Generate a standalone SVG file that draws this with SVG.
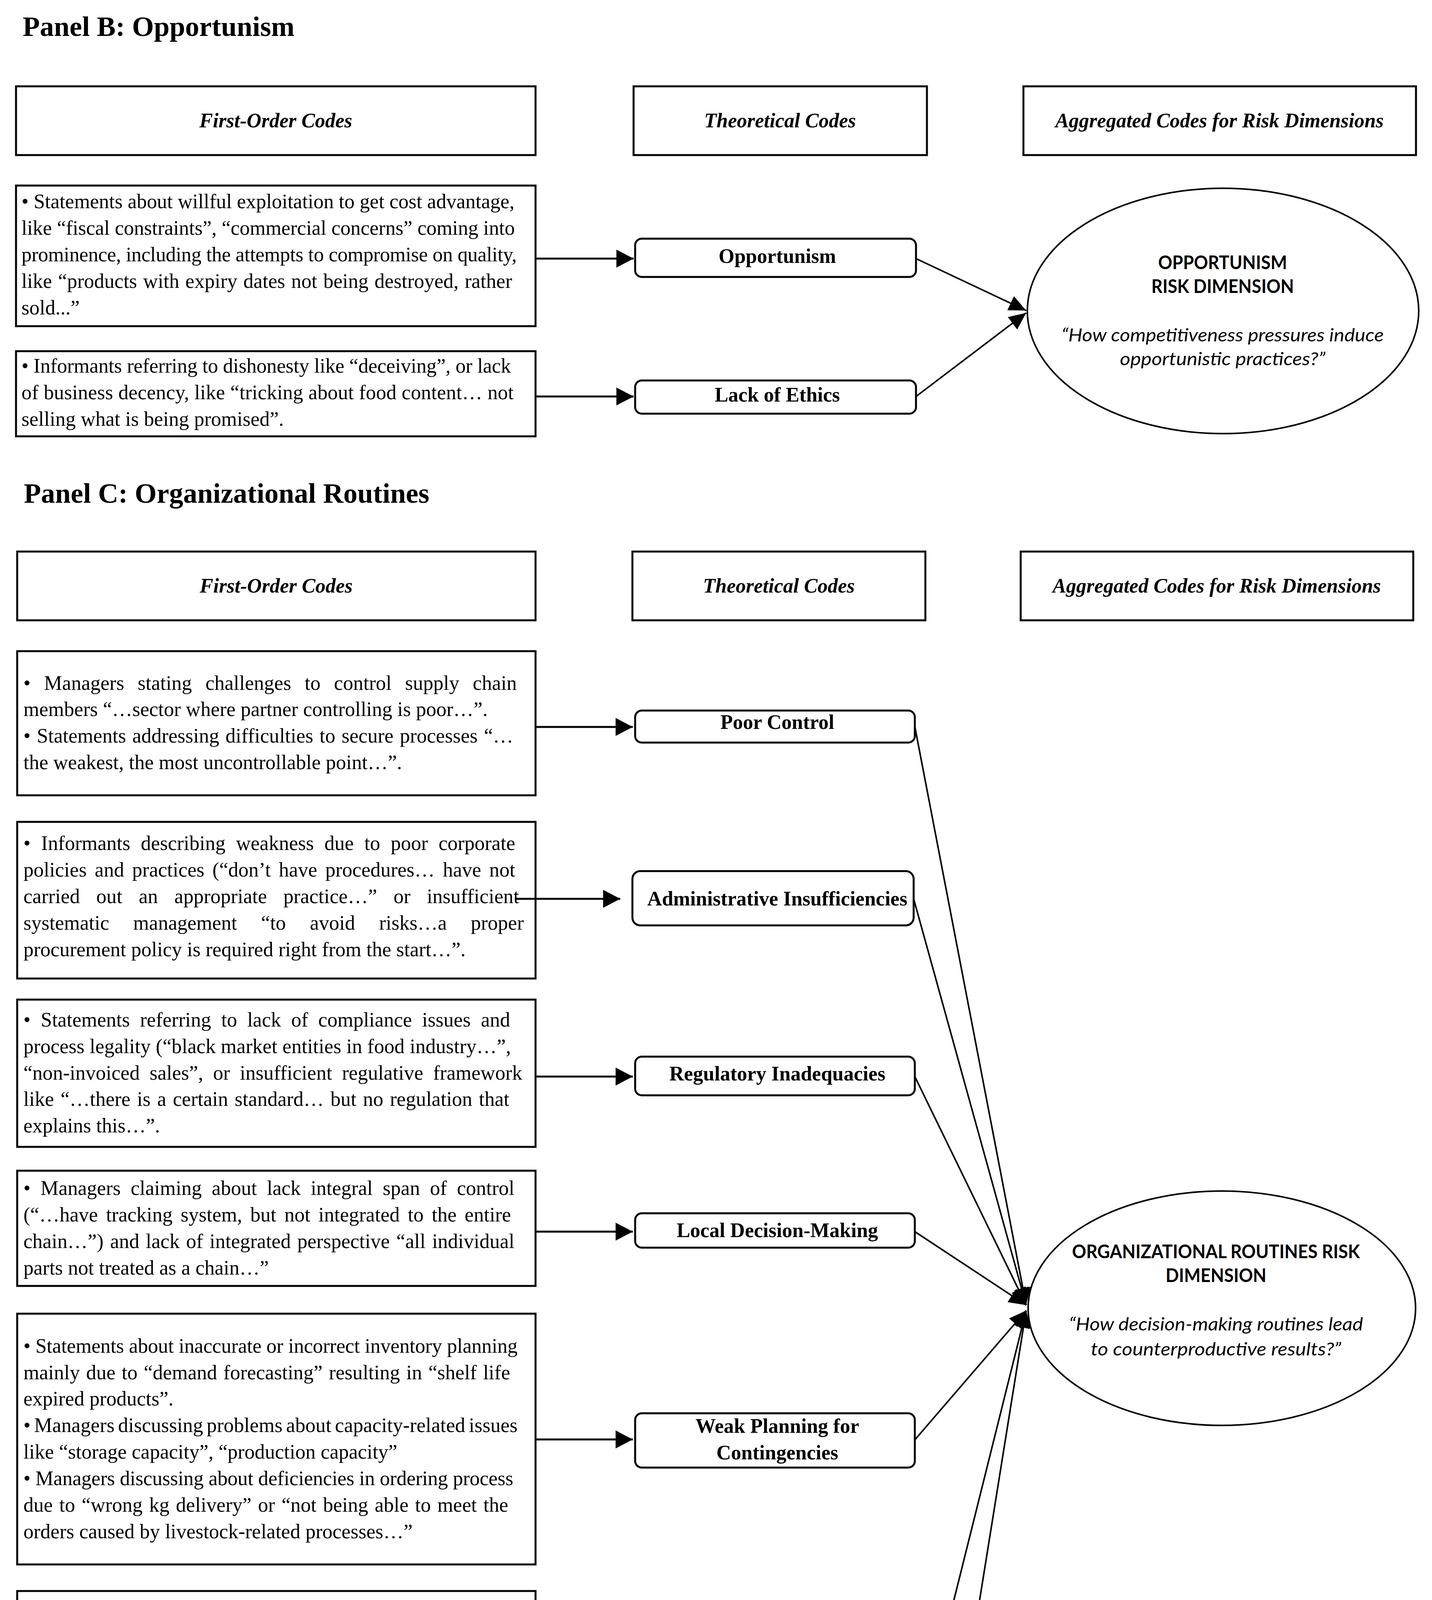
<svg xmlns="http://www.w3.org/2000/svg" width="3666" height="5324" viewBox="0 0 3666 5324">
<style>
.bg{fill:#fff}
.box{fill:#fff;stroke:#000;stroke-width:5}
.node{fill:#fff;stroke:#000;stroke-width:5}
.ell{fill:#fff;stroke:#000;stroke-width:4}
.title{font-family:"Liberation Serif","Times New Roman",serif;font-weight:bold;font-size:72px;fill:#000}
.hdr{font-family:"Liberation Serif","Times New Roman",serif;font-weight:bold;font-style:italic;font-size:52px;text-anchor:middle;fill:#000}
.body{font-family:"Liberation Serif","Times New Roman",serif;font-size:52px;fill:#000}
.lbl{font-family:"Liberation Serif","Times New Roman",serif;font-weight:bold;font-size:52px;text-anchor:middle;fill:#000}
.eb{font-family:Lato,"Open Sans",sans-serif;font-weight:bold;font-size:47px;text-anchor:middle;fill:#000}
.ei{font-family:Lato,"Open Sans",sans-serif;font-style:italic;font-size:47px;text-anchor:middle;fill:#000}
.h{stroke:#000;stroke-width:5;fill:none}
.d{stroke:#000;stroke-width:4;fill:none}
</style>
<defs>
<marker id="ah" markerUnits="userSpaceOnUse" markerWidth="44" markerHeight="46" refX="44" refY="23" orient="auto"><path d="M0,0 L44,23 L0,46 z" fill="#000"/></marker>
<marker id="ad" markerUnits="userSpaceOnUse" markerWidth="44" markerHeight="40" refX="44" refY="20" orient="auto"><path d="M0,0 L44,20 L0,40 z" fill="#000"/></marker>
</defs>
<rect class="bg" x="0" y="0" width="3666" height="5324"/>

<!-- Panel B -->
<text class="title" x="58" y="92">Panel B: Opportunism</text>
<g id="hdrB1"><rect class="box" x="41" y="221" width="1330" height="176"/><text class="hdr" x="706" y="326">First-Order Codes</text></g>
<g id="hdrB2"><rect class="box" x="1622" y="221" width="751" height="176"/><text class="hdr" x="1997" y="326">Theoretical Codes</text></g>
<g id="hdrB3"><rect class="box" x="2620" y="221" width="1005" height="176"/><text class="hdr" x="3122" y="326">Aggregated Codes for Risk Dimensions</text></g>

<g id="b1">
<rect class="box" x="41" y="475" width="1330" height="360"/>
<text class="body" x="55" y="533" textLength="1262" lengthAdjust="spacing">• Statements about willful exploitation to get cost advantage,</text>
<text class="body" x="55" y="601" textLength="1263" lengthAdjust="spacing">like “fiscal constraints”, “commercial concerns” coming into</text>
<text class="body" x="55" y="669" textLength="1268" lengthAdjust="spacing">prominence, including the attempts to compromise on quality,</text>
<text class="body" x="55" y="737" textLength="1256" lengthAdjust="spacing" style="word-spacing:2.6px">like “products with expiry dates not being destroyed, rather</text>
<text class="body" x="55" y="805">sold...”</text>
</g>
<g id="b2">
<rect class="box" x="41" y="899" width="1330" height="218"/>
<text class="body" x="55" y="954" textLength="1253" lengthAdjust="spacing">• Informants referring to dishonesty like “deceiving”, or lack</text>
<text class="body" x="55" y="1022" textLength="1260" lengthAdjust="spacing">of business decency, like “tricking about food content… not</text>
<text class="body" x="55" y="1090">selling what is being promised”.</text>
</g>

<g id="nB1"><rect class="node" x="1626" y="611" width="719" height="98" rx="17"/><text class="lbl" x="1990" y="673">Opportunism</text></g>
<g id="nB2"><rect class="node" x="1626" y="974" width="719" height="85" rx="17"/><text class="lbl" x="1990" y="1028">Lack of Ethics</text></g>

<g id="eB">
<ellipse class="ell" cx="3131" cy="796" rx="501" ry="314"/>
<text class="eb" x="3130" y="689" textLength="330" lengthAdjust="spacingAndGlyphs">OPPORTUNISM</text>
<text class="eb" x="3130" y="750" textLength="365" lengthAdjust="spacingAndGlyphs">RISK DIMENSION</text>
<text class="ei" x="3130" y="874" textLength="825" lengthAdjust="spacingAndGlyphs">“How competitiveness pressures induce</text>
<text class="ei" x="3130" y="935" textLength="526" lengthAdjust="spacingAndGlyphs">opportunistic practices?”</text>
</g>

<!-- Panel C -->
<text class="title" x="61" y="1287">Panel C: Organizational Routines</text>
<g id="hdrC1"><rect class="box" x="44" y="1412" width="1327" height="176"/><text class="hdr" x="707" y="1517">First-Order Codes</text></g>
<g id="hdrC2"><rect class="box" x="1619" y="1412" width="750" height="176"/><text class="hdr" x="1994" y="1517">Theoretical Codes</text></g>
<g id="hdrC3"><rect class="box" x="2613" y="1412" width="1005" height="176"/><text class="hdr" x="3115" y="1517">Aggregated Codes for Risk Dimensions</text></g>

<g id="c1">
<rect class="box" x="44" y="1667" width="1327" height="369"/>
<text class="body" x="60" y="1766" textLength="1263" lengthAdjust="spacing" style="word-spacing:21.6px">• Managers stating challenges to control supply chain</text>
<text class="body" x="60" y="1833">members “…sector where partner controlling is poor…”.</text>
<text class="body" x="60" y="1901" textLength="1254" lengthAdjust="spacing" style="word-spacing:3px">• Statements addressing difficulties to secure processes “…</text>
<text class="body" x="60" y="1969">the weakest, the most uncontrollable point…”.</text>
</g>
<g id="c2">
<rect class="box" x="44" y="2104" width="1327" height="401"/>
<text class="body" x="60" y="2176" textLength="1259" lengthAdjust="spacing" style="word-spacing:14.1px">• Informants describing weakness due to poor corporate</text>
<text class="body" x="60" y="2244" textLength="1259" lengthAdjust="spacing" style="word-spacing:7.6px">policies and practices (“don’t have procedures… have not</text>
<text class="body" x="60" y="2312" textLength="1269" lengthAdjust="spacing" style="word-spacing:29px">carried out an appropriate practice…” or insufficient</text>
<text class="body" x="60" y="2380" textLength="1281" lengthAdjust="spacing" style="word-spacing:48.5px">systematic management “to avoid risks…a proper</text>
<text class="body" x="60" y="2448">procurement policy is required right from the start…”.</text>
</g>
<g id="c3">
<rect class="box" x="44" y="2559" width="1327" height="377"/>
<text class="body" x="60" y="2628" textLength="1246" lengthAdjust="spacing" style="word-spacing:13px">• Statements referring to lack of compliance issues and</text>
<text class="body" x="60" y="2696" textLength="1248" lengthAdjust="spacing">process legality (“black market entities in food industry…”,</text>
<text class="body" x="60" y="2764" textLength="1277" lengthAdjust="spacing" style="word-spacing:12.2px">“non-invoiced sales”, or insufficient regulative framework</text>
<text class="body" x="60" y="2831" textLength="1244" lengthAdjust="spacing" style="word-spacing:3.9px">like “…there is a certain standard… but no regulation that</text>
<text class="body" x="60" y="2899">explains this…”.</text>
</g>
<g id="c4">
<rect class="box" x="44" y="2997" width="1327" height="295"/>
<text class="body" x="60" y="3059" textLength="1257" lengthAdjust="spacing" style="word-spacing:12.6px">• Managers claiming about lack integral span of control</text>
<text class="body" x="60" y="3127" textLength="1248" lengthAdjust="spacing" style="word-spacing:7.8px">(“…have tracking system, but not integrated to the entire</text>
<text class="body" x="60" y="3195" textLength="1257" lengthAdjust="spacing" style="word-spacing:3.6px">chain…”) and lack of integrated perspective “all individual</text>
<text class="body" x="60" y="3263">parts not treated as a chain…”</text>
</g>
<g id="c5">
<rect class="box" x="44" y="3363" width="1327" height="642"/>
<text class="body" x="60" y="3463" textLength="1265" lengthAdjust="spacing">• Statements about inaccurate or incorrect inventory planning</text>
<text class="body" x="60" y="3531" textLength="1246" lengthAdjust="spacing" style="word-spacing:3px">mainly due to “demand forecasting” resulting in “shelf life</text>
<text class="body" x="60" y="3598">expired products”.</text>
<text class="body" x="60" y="3666" textLength="1265" lengthAdjust="spacing" style="word-spacing:-4px">• Managers discussing problems about capacity-related issues</text>
<text class="body" x="60" y="3734">like “storage capacity”, “production capacity”</text>
<text class="body" x="60" y="3802" textLength="1254" lengthAdjust="spacing">• Managers discussing about deficiencies in ordering process</text>
<text class="body" x="60" y="3870" textLength="1241" lengthAdjust="spacing" style="word-spacing:3.7px">due to “wrong kg delivery” or “not being able to meet the</text>
<text class="body" x="60" y="3938">orders caused by livestock-related processes…”</text>
</g>
<g id="c6">
<rect class="box" x="44" y="4073" width="1327" height="835"/>
<text class="body" x="60" y="4165" textLength="1245" lengthAdjust="spacing" style="word-spacing:4.4px">• Statements related to “no change”, being common in the</text>
<text class="body" x="60" y="4233" textLength="1255" lengthAdjust="spacing" style="word-spacing:15.9px">industry. This is associated with non-intention to adopt</text>
<text class="body" x="60" y="4301" textLength="1264" lengthAdjust="spacing" style="word-spacing:-4px">environmental advancements, especially related to “not taking</text>
<text class="body" x="60" y="4369" textLength="1264" lengthAdjust="spacing" style="word-spacing:33.3px">enough advantage of technology”, or make process</text>
<text class="body" x="60" y="4437" textLength="1257" lengthAdjust="spacing">improvements like “follow the world and change to survive”</text>
<text class="body" x="60" y="4505">or “poor complaint management hindering change”.</text>
<text class="body" x="60" y="4573" textLength="1257" lengthAdjust="spacing" style="word-spacing:8.4px">• Informants discussions about insufficient focus on labor</text>
<text class="body" x="60" y="4640" textLength="1245" lengthAdjust="spacing">development like “… not investing on labor to take licences</text>
<text class="body" x="60" y="4708">or certificates”</text>
<text class="body" x="60" y="4776" textLength="1255" lengthAdjust="spacing" style="word-spacing:6.2px">• Managers addressing “lack of proactive approach to risk</text>
<text class="body" x="60" y="4844">management”.</text>
</g>
<g id="c7">
<rect class="box" x="44" y="4976" width="1327" height="295"/>
<text class="body" x="60" y="5038" textLength="1268" lengthAdjust="spacing" style="word-spacing:54.4px">• Statements about unforeseen contamination or</text>
<text class="body" x="60" y="5106" textLength="1263" lengthAdjust="spacing">unaccountable poisoning threats related to “lack of hygiene”,</text>
<text class="body" x="60" y="5174" textLength="1272" lengthAdjust="spacing" style="word-spacing:-4px">“physical substances”, “microbiological or chemical hazards”,</text>
<text class="body" x="60" y="5241">“bacterial growth”.</text>
</g>

<g id="nC1"><rect class="node" x="1626" y="1819" width="716" height="82" rx="17"/><text class="lbl" x="1990" y="1866">Poor Control</text></g>
<g id="nC2"><rect class="node" x="1619" y="2230" width="720" height="139" rx="20"/><text class="lbl" x="1990" y="2318">Administrative Insufficiencies</text></g>
<g id="nC3"><rect class="node" x="1626" y="2705" width="716" height="99" rx="17"/><text class="lbl" x="1990" y="2766">Regulatory Inadequacies</text></g>
<g id="nC4"><rect class="node" x="1626" y="3106" width="716" height="88" rx="17"/><text class="lbl" x="1990" y="3167">Local Decision-Making</text></g>
<g id="nC5"><rect class="node" x="1626" y="3618" width="716" height="139" rx="17"/><text class="lbl" x="1990" y="3668">Weak Planning for</text><text class="lbl" x="1990" y="3736">Contingencies</text></g>
<g id="nC6"><rect class="node" x="1626" y="4439" width="716" height="106" rx="17"/><text class="lbl" x="1990" y="4507">Poor Change Management</text></g>
<g id="nC7"><rect class="node" x="1626" y="5060" width="716" height="136" rx="17"/><text class="lbl" x="1990" y="5107">Health &amp; Safety</text><text class="lbl" x="1990" y="5175">Threats</text></g>

<g id="eC">
<ellipse class="ell" cx="3128" cy="3349" rx="496" ry="300"/>
<text class="eb" x="3113" y="3221" textLength="737" lengthAdjust="spacingAndGlyphs">ORGANIZATIONAL ROUTINES RISK</text>
<text class="eb" x="3113" y="3282" textLength="258" lengthAdjust="spacingAndGlyphs">DIMENSION</text>
<text class="ei" x="3113" y="3406" textLength="753" lengthAdjust="spacingAndGlyphs">“How decision-making routines lead</text>
<text class="ei" x="3113" y="3470" textLength="641" lengthAdjust="spacingAndGlyphs">to counterproductive results?”</text>
</g>

<g id="connectors">
<path class="h" d="M1371,662 H1622" marker-end="url(#ah)"/>
<path class="h" d="M1371,1015 H1622" marker-end="url(#ah)"/>
<path class="d" d="M2345,662 L2627,795" marker-end="url(#ad)"/>
<path class="d" d="M2345,1015 L2627,801" marker-end="url(#ad)"/>

<path class="h" d="M1371,1861 H1620" marker-end="url(#ah)"/>
<path class="h" d="M1318,2301 H1588" marker-end="url(#ah)"/>
<path class="h" d="M1371,2756 H1620" marker-end="url(#ah)"/>
<path class="h" d="M1371,3153 H1620" marker-end="url(#ah)"/>
<path class="h" d="M1371,3685 H1620" marker-end="url(#ah)"/>
<path class="h" d="M1371,4497 H1620" marker-end="url(#ah)"/>
<path class="h" d="M1312,5129 H1588" marker-end="url(#ah)"/>

<path class="d" d="M2342,1860 L2627,3341" marker-end="url(#ad)"/>
<path class="d" d="M2339,2301 L2627,3341" marker-end="url(#ad)"/>
<path class="d" d="M2342,2756 L2627,3341" marker-end="url(#ad)"/>
<path class="d" d="M2342,3153 L2627,3341" marker-end="url(#ad)"/>
<path class="d" d="M2342,3686 L2627,3355" marker-end="url(#ad)"/>
<path class="d" d="M2342,4497 L2627,3355" marker-end="url(#ad)"/>
<path class="d" d="M2342,5128 L2627,3355" marker-end="url(#ad)"/>
</g>
</svg>
